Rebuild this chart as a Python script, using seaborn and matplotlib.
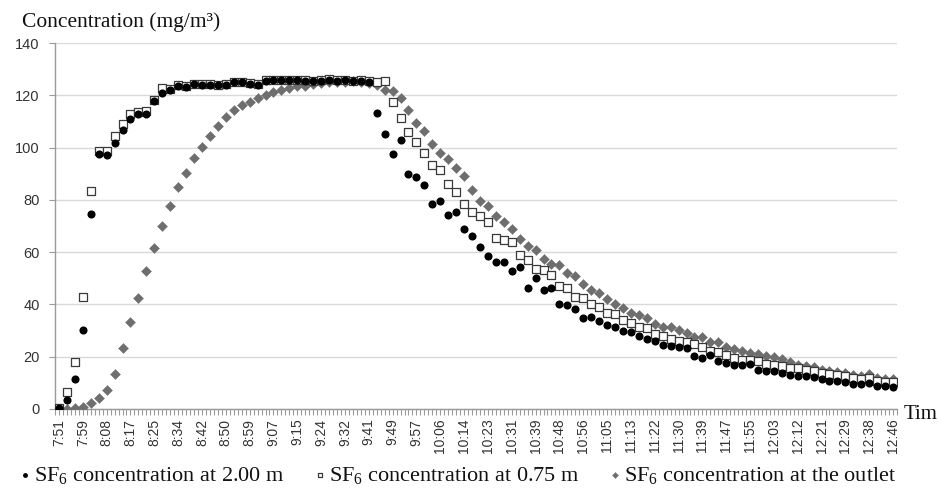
import numpy as np
import pandas as pd
import matplotlib
matplotlib.use("Agg")
import matplotlib.pyplot as plt
import seaborn as sns
from matplotlib.ticker import FixedLocator

# ---------------- data ----------------
tick_labels = ["7:51", "7:59", "8:08", "8:17", "8:25", "8:34", "8:42", "8:50", "8:59",
               "9:07", "9:15", "9:24", "9:32", "9:41", "9:49", "9:57", "10:06", "10:14",
               "10:23", "10:31", "10:39", "10:48", "10:56", "11:05", "11:13", "11:22",
               "11:30", "11:39", "11:47", "11:55", "12:03", "12:12", "12:21", "12:29",
               "12:38", "12:46"]
label_every = 3  # one time label every 3 readings

conc_200 = [0.4, 3.6, 11.6, 30.1, 74.6, 97.6, 97.2, 101.7, 106.8, 111.0,
            112.8, 112.7, 117.8, 120.8, 122.0, 123.4, 123.0, 124.2, 124.0, 124.0,
            123.8, 123.8, 124.9, 124.9, 124.4, 123.9, 125.3, 125.8, 125.8, 125.8,
            125.8, 125.4, 125.5, 125.6, 126.0, 125.6, 125.8, 125.4, 125.6, 125.2,
            113.2, 105.3, 97.6, 103.0, 89.7, 88.6, 85.8, 78.4, 79.7, 74.1,
            75.5, 68.8, 66.2, 61.8, 58.4, 56.1, 56.4, 52.9, 54.4, 46.4,
            50.1, 45.5, 46.2, 40.3, 39.7, 38.1, 34.8, 35.1, 33.8, 32.1,
            31.4, 29.8, 29.3, 27.8, 26.7, 25.9, 24.6, 24.2, 23.9, 23.3,
            20.4, 19.5, 20.5, 18.5, 17.6, 16.9, 16.9, 17.3, 15.0, 14.6,
            14.4, 13.8, 13.1, 12.8, 12.5, 12.2, 11.5, 10.6, 10.6, 10.2,
            9.6, 9.6, 9.9, 8.9, 8.7, 8.5]

conc_075 = [0.5, 6.5, 18.0, 42.8, 83.5, 98.8, 98.5, 104.5, 109.0, 113.0,
            113.5, 113.8, 118.2, 122.6, 122.5, 123.8, 123.4, 124.2, 124.2, 124.2,
            123.8, 124.2, 125.0, 125.0, 124.6, 124.5, 126.0, 125.9, 125.9, 125.9,
            125.9, 125.7, 125.4, 125.7, 126.2, 125.7, 125.9, 125.6, 125.7, 125.4,
            125.0, 125.5, 117.3, 111.4, 105.8, 102.0, 98.0, 93.4, 91.6, 86.1,
            82.9, 78.4, 75.3, 74.0, 71.5, 65.6, 64.6, 63.8, 58.8, 57.0,
            53.4, 53.1, 51.2, 47.2, 46.1, 42.8, 42.6, 40.1, 39.2, 36.6,
            36.3, 34.1, 32.9, 31.4, 30.9, 28.8, 27.8, 26.8, 26.2, 25.6,
            25.0, 23.7, 22.3, 21.8, 20.8, 19.5, 18.9, 18.7, 18.2, 17.3,
            16.9, 16.6, 15.8, 15.6, 14.9, 14.5, 13.8, 13.3, 13.0, 12.6,
            11.8, 11.6, 11.8, 10.8, 10.5, 10.3]

conc_outlet = [0.0, 0.0, 0.2, 0.8, 2.3, 4.2, 7.3, 13.5, 23.3, 33.2,
               42.4, 52.6, 61.4, 70.1, 77.7, 85.1, 90.4, 96.2, 100.4, 104.5,
               108.4, 111.8, 114.3, 116.2, 117.6, 119.0, 120.3, 121.3, 122.2, 122.8,
               123.4, 123.7, 124.2, 124.8, 125.0, 125.0, 125.2, 125.3, 125.2, 124.8,
               124.0, 122.1, 121.8, 119.0, 114.5, 109.4, 106.5, 101.5, 98.1, 95.6,
               92.0, 89.3, 83.8, 79.4, 77.5, 73.7, 71.5, 68.7, 65.1, 62.3,
               60.9, 57.4, 55.4, 54.9, 52.0, 50.7, 48.0, 45.6, 44.5, 42.1,
               40.3, 38.6, 36.7, 36.0, 35.0, 32.6, 31.4, 31.2, 30.3, 29.1,
               27.5, 27.4, 25.6, 25.6, 23.6, 22.9, 22.3, 21.4, 21.2, 20.1,
               19.9, 19.1, 17.8, 16.9, 16.5, 16.2, 15.0, 14.4, 14.2, 13.8,
               12.9, 12.7, 13.2, 11.8, 11.5, 11.5]

series_names = ["SF$_6$ concentration at 2.00 m",
                "SF$_6$ concentration at 0.75 m",
                "SF$_6$ concentration at the outlet"]

# ---------------- style ----------------
sns.set_theme(style="white")
plt.rcParams["font.family"] = ["Liberation Serif", "DejaVu Serif"]
plt.rcParams["mathtext.default"] = "regular"

n = len(conc_200)
idx = np.arange(n)

fig = plt.figure(figsize=(9.41, 5.0), dpi=100)
ax = fig.add_axes([55 / 941, 91 / 500, 842 / 941, 366 / 500])

# outlet (bottom layer), 0.75 m, then 2.00 m on top
sns.scatterplot(x=idx, y=conc_outlet, marker="D", s=26, color="#6e6e6e",
                edgecolor="#6e6e6e", linewidth=0.3, ax=ax, label=series_names[2], zorder=3)
sns.scatterplot(x=idx, y=conc_075, marker="s", s=32, color="white",
                edgecolor="#3a3a3a", linewidth=0.9, ax=ax, label=series_names[1], zorder=4)
sns.scatterplot(x=idx, y=conc_200, marker="o", s=34, color="black",
                edgecolor="black", linewidth=0, ax=ax, label=series_names[0], zorder=5)

handles, labels = ax.get_legend_handles_labels()
if ax.get_legend() is not None:
    ax.get_legend().remove()
order = [labels.index(s) for s in series_names]
handles = [handles[i] for i in order]
labels = [labels[i] for i in order]

# axes
ax.set_xlim(-0.5, n - 0.5)
ax.set_ylim(0, 140)
ax.set_yticks(np.arange(0, 141, 20))
ax.yaxis.grid(True, color="#d9d9d9", linewidth=1.0)
ax.xaxis.grid(False)
ax.set_axisbelow(True)
for side in ["top", "right"]:
    ax.spines[side].set_visible(False)
for side in ["left", "bottom"]:
    ax.spines[side].set_color("#9a9a9a")
    ax.spines[side].set_linewidth(1.0)

pos = np.arange(0, n, label_every)
ax.set_xticks(pos)
ax.set_xticklabels(tick_labels, rotation=90, fontsize=10, family="Liberation Sans",
                   color="#333333")
ax.xaxis.set_minor_locator(FixedLocator(np.arange(-0.5, n - 0.5 + 0.01, 0.5)))
ax.tick_params(axis="x", which="both", bottom=True, length=4, width=0.8,
               color="#9a9a9a", direction="out", pad=3)
ax.tick_params(axis="y", left=True, length=4, width=0.8, color="#9a9a9a",
               direction="out", pad=7)
for lab in ax.get_yticklabels():
    lab.set_family("Liberation Sans")
    lab.set_fontsize(10.5)
    lab.set_color("#333333")
ax.set_xlabel("")
ax.set_ylabel("")

# axis titles
fig.text(22 / 941, 1 - 27 / 500, "Concentration (mg/m³)", fontsize=15.5,
         va="baseline", ha="left", color="#111111")
fig.text(904 / 941, 1 - 419 / 500, "Tim", fontsize=15, va="baseline",
         ha="left", color="#111111")

# legend
fig.legend(handles, labels, loc="lower left", bbox_to_anchor=(4 / 941, 0.0),
           ncol=3, frameon=False, fontsize=16, handletextpad=0.1,
           columnspacing=1.3, markerscale=0.6, handlelength=0.6,
           borderaxespad=0.25, labelcolor="#111111")

fig.savefig("out.png", dpi=100)
